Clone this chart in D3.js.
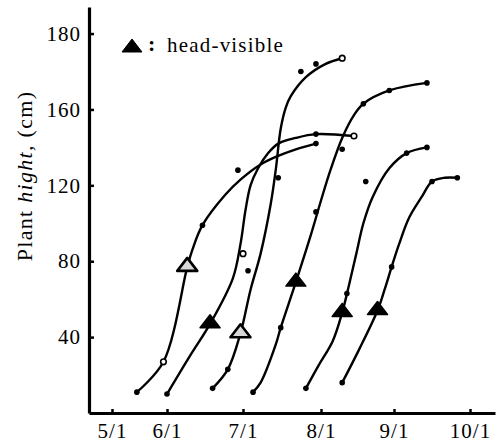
<!DOCTYPE html>
<html>
<head>
<meta charset="utf-8">
<script src="https://cdn.jsdelivr.net/npm/d3@7"></script>
<style>
body { margin: 0; background: #fff; }
text { font-family: "Liberation Serif", "Times New Roman", serif; fill: #000; }
</style>
</head>
<body>
<div id="chart"></div>
<script>
// growth curves, one per sowing date: [month/day, plant height]
var curveA = [["5/15",11],["5/30",27],["6/9",77],["6/11",86],["6/15",99],["6/24",115],["6/30",123],["7/8",131],["7/14",135],["7/22",139],["7/30",142]];
var curveB = [["6/1",10],["6/10",30],["6/18",47],["6/27",71],["6/30",89],["7/2",107],["7/4",120],["7/7",129],["7/11",137],["7/15",142],["7/22",145],["7/30",147],["8/15",146]];
var curveC = [["6/19",13],["6/25",23],["6/30",42],["7/4",65],["7/8",84],["7/12",110],["7/14",128],["7/16",150],["7/18",161],["7/20",167],["7/26",177],["8/3",184],["8/10",187]];
var curveD = [["7/5",11],["7/8",16],["7/14",36],["7/16",45],["7/22",69],["7/28",94],["8/1",112],["8/5",128],["8/10",145],["8/15",157],["8/19",163],["8/30",170],["9/14",174]];
var curveE = [["7/26",13],["7/31",25],["8/6",38],["8/10",53],["8/13",68],["8/16",84],["8/19",100],["8/23",114],["8/30",129],["9/6",137],["9/14",140]];
var curveF = [["8/10",16],["8/17",33],["8/25",54],["8/28",65],["8/31",77],["9/3",89],["9/7",103],["9/12",114],["9/16",122],["9/21",124],["9/26",124]];

// measured points
var dots = [["5/15",11],["6/15",99],["6/29",128],["7/30",142],
            ["6/1",10],["7/30",147],
            ["6/19",13],["6/25",23],["7/3",75],["7/15",124],["7/24",180],["7/30",184],
            ["7/5",11],["7/16",45],["7/30",106],["8/10",139],["8/19",163],["8/30",170],["9/14",174],
            ["7/26",13],["8/12",63],["8/20",122],["9/6",137],["9/14",140],
            ["8/10",16],["8/31",77],["9/16",122],["9/26",124]];
var openDots = [["5/30",27],["8/15",146],["7/1",84],["8/10",187]];

// head-visible dates
var headsFilled = [["6/18",47],["7/22",69],["8/10",53],["8/25",54]];
var headsOpen = [["6/9",77],["6/30",42]];

var xTicks = ["5/1","6/1","7/1","8/1","9/1","10/1"];
var yTicks = [40, 80, 120, 160, 200];
var yTickLabels = ["40","80","120","160","180"];

var width = 499;
var height = 444;
var parse = d3.timeParse("%m/%d");

var svg = d3.select('#chart').append('svg')
    .attr('width', width)
    .attr('height', height);

// the printed axis has an uneven first month
var x = d3.scaleTime()
    .domain(["4/18","5/1","6/1","7/1","8/1","9/1","10/1","10/11"].map(parse))
    .range([89, 112, 167, 243, 321, 394, 470, 495]);

var y = d3.scaleLinear()
    .domain([0, 214])
    .range([413, 7]);

var line = d3.line()
    .x(function(d) { return x(parse(d[0])); })
    .y(function(d) { return y(d[1]); })
    .curve(d3.curveCatmullRom.alpha(0.5));

svg.selectAll('.curve')
    .data([curveA, curveB, curveC, curveD, curveE, curveF])
  .enter().append('path')
    .attr('class', 'curve')
    .attr('d', line)
    .attr('fill', 'none')
    .attr('stroke', '#000')
    .attr('stroke-width', 2.4)
    .attr('stroke-linecap', 'round');

svg.selectAll('.dot')
    .data(dots)
  .enter().append('circle')
    .attr('class', 'dot')
    .attr('cx', function(d) { return x(parse(d[0])); })
    .attr('cy', function(d) { return y(d[1]); })
    .attr('r', 2.8)
    .attr('fill', '#000');

svg.selectAll('.open')
    .data(openDots)
  .enter().append('circle')
    .attr('class', 'open')
    .attr('cx', function(d) { return x(parse(d[0])); })
    .attr('cy', function(d) { return y(d[1]); })
    .attr('r', 2.8)
    .attr('fill', '#fff')
    .attr('stroke', '#000')
    .attr('stroke-width', 1.6);

var tri = 'M0,-9L10,4L-10,4Z';

svg.selectAll('.head')
    .data(headsFilled)
  .enter().append('path')
    .attr('class', 'head')
    .attr('d', tri)
    .attr('transform', function(d) { return 'translate(' + x(parse(d[0])) + ',' + y(d[1]) + ')'; })
    .attr('fill', '#000')
    .attr('stroke', '#000')
    .attr('stroke-width', 1.5)
    .attr('stroke-linejoin', 'round');

svg.selectAll('.headOpen')
    .data(headsOpen)
  .enter().append('path')
    .attr('class', 'headOpen')
    .attr('d', tri)
    .attr('transform', function(d) { return 'translate(' + x(parse(d[0])) + ',' + y(d[1]) + ')'; })
    .attr('fill', '#d8d8d8')
    .attr('stroke', '#000')
    .attr('stroke-width', 2.6)
    .attr('stroke-linejoin', 'round');

// axes, ticks point inwards
svg.append('g')
    .attr('transform', 'translate(' + x.range()[0] + ',0)')
    .call(d3.axisLeft(y)
        .tickValues(yTicks)
        .tickFormat(function(d, i) { return yTickLabels[i]; })
        .tickSizeInner(-5)
        .tickSizeOuter(0)
        .tickPadding(8));

svg.append('g')
    .attr('transform', 'translate(0,' + y(0) + ')')
    .call(d3.axisBottom(x)
        .tickValues(xTicks.map(parse))
        .tickFormat(d3.timeFormat('%-m/%-d'))
        .tickSizeInner(-4)
        .tickSizeOuter(0)
        .tickPadding(10));

svg.selectAll('.domain').attr('stroke', '#000').attr('stroke-width', 3.2);
svg.selectAll('.tick line').attr('stroke', '#000').attr('stroke-width', 2.5);
svg.selectAll('.tick text')
    .attr('font-family', '"Liberation Serif", serif')
    .attr('font-size', 21)
    .attr('letter-spacing', 1)
    .attr('fill', '#000');

var ylab = svg.append('text')
    .attr('transform', 'translate(32,176) rotate(-90)')
    .attr('text-anchor', 'middle')
    .attr('font-size', 22)
    .attr('letter-spacing', 1.3);
ylab.append('tspan').text('Plant ');
ylab.append('tspan').attr('font-style', 'italic').text('hight,');
ylab.append('tspan').text(' (cm)');

// legend
svg.append('path')
    .attr('d', 'M0,-7L10,6L-10,6Z')
    .attr('transform', 'translate(132,46)')
    .attr('fill', '#000')
    .attr('stroke', '#000')
    .attr('stroke-linejoin', 'round');

svg.append('text')
    .attr('x', 148)
    .attr('y', 51)
    .attr('font-size', 22)
    .attr('font-weight', 'bold')
    .text(':');

svg.append('text')
    .attr('x', 167)
    .attr('y', 52)
    .attr('font-size', 21)
    .attr('letter-spacing', 1.2)
    .text('head-visible');
</script>
</body>
</html>
